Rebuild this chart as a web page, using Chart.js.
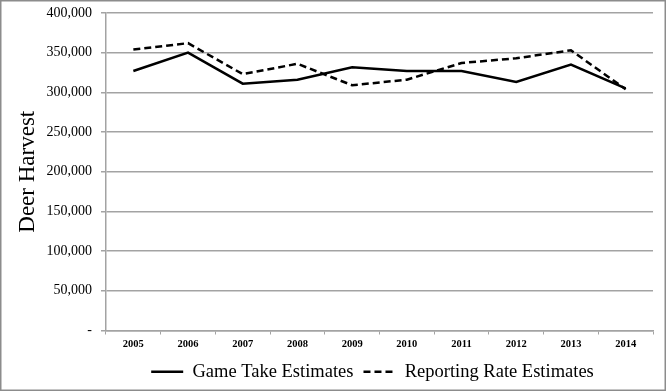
<!DOCTYPE html>
<html>
<head>
<meta charset="utf-8">
<script src="https://cdn.jsdelivr.net/npm/chart.js@4.4.1/dist/chart.umd.min.js"></script>
<style>
  body { margin: 0; background: #fff; }
  canvas { display: block; }
</style>
</head>
<body>
<canvas id="graficoHarvest" width="666" height="391"></canvas>
<script>
const anos = ['2005', '2006', '2007', '2008', '2009', '2010', '2011', '2012', '2013', '2014'];
const gameTake = [327000, 350000, 311000, 316000, 331500, 327000, 327000, 313000, 335000, 305000];
const reportingRate = [354000, 362000, 323000, 336000, 309000, 316000, 337000, 343000, 353000, 304000];
const yTicks = [0, 50000, 100000, 150000, 200000, 250000, 300000, 350000, 400000];

const serif = '"Liberation Serif", "Times New Roman", serif';
const cinza = '#a3a3a3';

const moldura = {
    id: 'moldura',
    afterLayout(chart) {
        // puxa a legenda um pouco para a esquerda, como no original
        chart.legend.left -= 7;
        chart.legend.right -= 7;
    },
    afterDraw(chart) {
        const ctx = chart.ctx;
        ctx.save();
        ctx.strokeStyle = '#8c8c8c';
        ctx.lineWidth = 1.5;
        ctx.strokeRect(0.75, 0.75, chart.width - 1.5, chart.height - 1.5);
        ctx.restore();
    }
};

const graficoHarvest = new Chart(document.getElementById('graficoHarvest'), {
    type: 'line',
    data: {
        labels: anos,
        datasets: [{
            label: 'Game Take Estimates',
            data: gameTake,
            borderColor: '#000',
            backgroundColor: '#000',
            borderWidth: 2.5,
            pointRadius: 0,
            tension: 0
        }, {
            label: 'Reporting Rate Estimates',
            data: reportingRate,
            borderColor: '#000',
            backgroundColor: '#000',
            borderWidth: 2.5,
            borderDash: [7, 4],
            pointRadius: 0,
            tension: 0
        }]
    },
    options: {
        responsive: false,
        animation: false,
        layout: { padding: { top: 13, right: 13, left: 0, bottom: 0 } },
        plugins: {
            tooltip: { enabled: false },
            legend: {
                position: 'bottom',
                fullSize: false,
                labels: {
                    usePointStyle: true,
                    pointStyle: 'line',
                    pointStyleWidth: 32,
                    padding: 10,
                    color: '#000',
                    font: { family: serif, size: 18.5 },
                    generateLabels(chart) {
                        return chart.data.datasets.map((ds, i) => ({
                            text: ds.label,
                            datasetIndex: i,
                            pointStyle: 'line',
                            strokeStyle: ds.borderColor,
                            fillStyle: ds.borderColor,
                            fontColor: '#000',
                            lineWidth: 2.5,
                            lineDash: ds.borderDash || [],
                            hidden: false
                        }));
                    }
                }
            }
        },
        scales: {
            x: {
                offset: true,
                afterFit(scale) { scale.height = 22; },
                grid: { offset: true, drawOnChartArea: false, drawTicks: true, tickLength: 4, color: cinza },
                border: { display: true, color: cinza, width: 1.5 },
                ticks: { color: '#000', padding: 3, maxRotation: 0, font: { family: serif, size: 10.5, weight: 'bold' } }
            },
            y: {
                min: 0,
                max: 400000,
                afterFit(scale) {
                    scale.width = 106;
                    scale.paddingTop = 0;
                    scale.paddingBottom = 0;
                },
                afterBuildTicks(scale) { scale.ticks = yTicks.map(v => ({ value: v })); },
                grid: { color: cinza, lineWidth: 1.5, tickLength: 5 },
                border: { display: true, color: cinza, width: 1.5 },
                title: {
                    display: true,
                    text: 'Deer Harvest',
                    color: '#000',
                    padding: { top: 14, bottom: 0 },
                    font: { family: serif, size: 23 }
                },
                ticks: {
                    color: '#000',
                    padding: 9,
                    font: { family: serif, size: 14 },
                    callback: (v) => v === 0 ? '-' : v.toLocaleString('en-US')
                }
            }
        }
    },
    plugins: [moldura]
});
</script>
</body>
</html>
